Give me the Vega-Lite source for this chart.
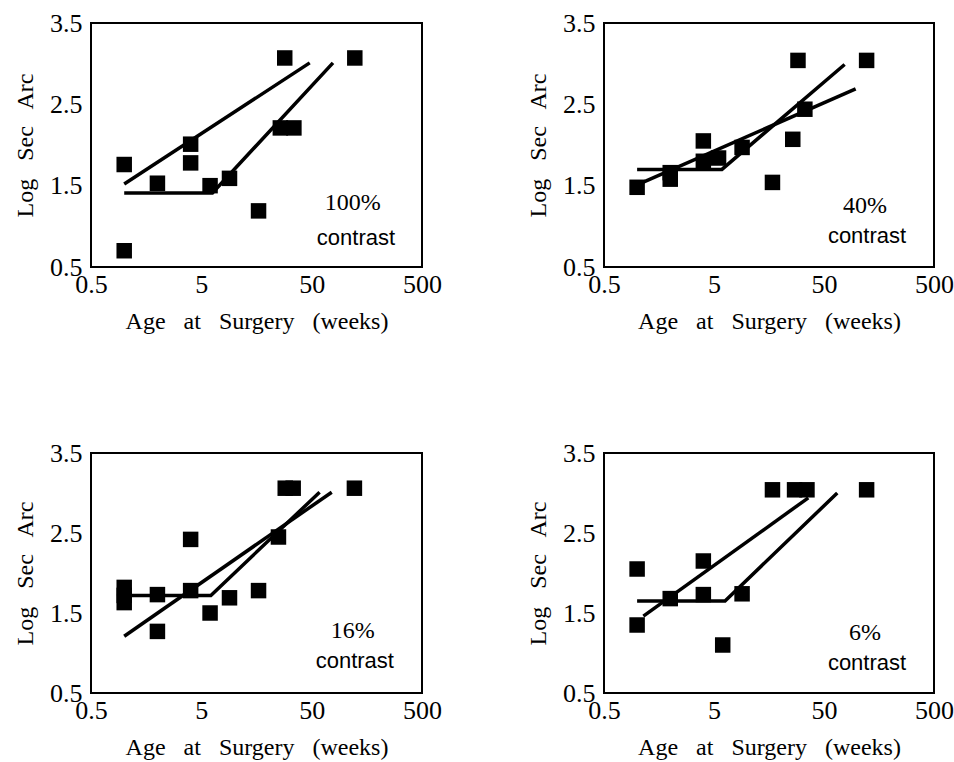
{
  "$schema": "https://vega.github.io/schema/vega-lite/v6.json",
  "padding": {"left": 12, "top": 9, "right": 5, "bottom": 5},
  "background": "white",
  "data": {"values": [
    {"p": 1, "kind": "pt", "x": 1, "y": 1.76},
    {"p": 1, "kind": "pt", "x": 1, "y": 0.7},
    {"p": 1, "kind": "pt", "x": 2, "y": 1.53},
    {"p": 1, "kind": "pt", "x": 4, "y": 2.01},
    {"p": 1, "kind": "pt", "x": 4, "y": 1.78},
    {"p": 1, "kind": "pt", "x": 6, "y": 1.5},
    {"p": 1, "kind": "pt", "x": 9, "y": 1.59},
    {"p": 1, "kind": "pt", "x": 16.5, "y": 1.19},
    {"p": 1, "kind": "pt", "x": 26, "y": 2.21},
    {"p": 1, "kind": "pt", "x": 28.5, "y": 3.07},
    {"p": 1, "kind": "pt", "x": 34.5, "y": 2.21},
    {"p": 1, "kind": "pt", "x": 123, "y": 3.07},
    {"p": 1, "kind": "fit", "line": "A", "x": 1, "y": 1.52},
    {"p": 1, "kind": "fit", "line": "A", "x": 48, "y": 3.01},
    {"p": 1, "kind": "fit", "line": "B", "x": 1, "y": 1.41},
    {"p": 1, "kind": "fit", "line": "B", "x": 6.3, "y": 1.41},
    {"p": 1, "kind": "fit", "line": "B", "x": 78, "y": 3.01},
    {"p": 1, "kind": "pct", "x": 118, "y": 1.29, "label": "100%"},
    {"p": 1, "kind": "word", "x": 126, "y": 0.86, "label": "contrast"},

    {"p": 2, "kind": "pt", "x": 1, "y": 1.48},
    {"p": 2, "kind": "pt", "x": 2, "y": 1.58},
    {"p": 2, "kind": "pt", "x": 2, "y": 1.66},
    {"p": 2, "kind": "pt", "x": 4, "y": 2.05},
    {"p": 2, "kind": "pt", "x": 4, "y": 1.8},
    {"p": 2, "kind": "pt", "x": 5.5, "y": 1.84},
    {"p": 2, "kind": "pt", "x": 9, "y": 1.97},
    {"p": 2, "kind": "pt", "x": 17, "y": 1.54},
    {"p": 2, "kind": "pt", "x": 26, "y": 2.07},
    {"p": 2, "kind": "pt", "x": 29, "y": 3.04},
    {"p": 2, "kind": "pt", "x": 33.5, "y": 2.44},
    {"p": 2, "kind": "pt", "x": 122, "y": 3.04},
    {"p": 2, "kind": "fit", "line": "A", "x": 1, "y": 1.51},
    {"p": 2, "kind": "fit", "line": "A", "x": 97, "y": 2.69},
    {"p": 2, "kind": "fit", "line": "B", "x": 1, "y": 1.7},
    {"p": 2, "kind": "fit", "line": "B", "x": 5.9, "y": 1.7},
    {"p": 2, "kind": "fit", "line": "B", "x": 77, "y": 2.99},
    {"p": 2, "kind": "pct", "x": 118, "y": 1.25, "label": "40%"},
    {"p": 2, "kind": "word", "x": 123, "y": 0.88, "label": "contrast"},

    {"p": 3, "kind": "pt", "x": 1, "y": 1.82},
    {"p": 3, "kind": "pt", "x": 1, "y": 1.72},
    {"p": 3, "kind": "pt", "x": 1, "y": 1.63},
    {"p": 3, "kind": "pt", "x": 2, "y": 1.73},
    {"p": 3, "kind": "pt", "x": 2, "y": 1.27},
    {"p": 3, "kind": "pt", "x": 4, "y": 2.42},
    {"p": 3, "kind": "pt", "x": 4, "y": 1.78},
    {"p": 3, "kind": "pt", "x": 6, "y": 1.5},
    {"p": 3, "kind": "pt", "x": 9, "y": 1.69},
    {"p": 3, "kind": "pt", "x": 16.5, "y": 1.78},
    {"p": 3, "kind": "pt", "x": 25, "y": 2.45},
    {"p": 3, "kind": "pt", "x": 28.8, "y": 3.06},
    {"p": 3, "kind": "pt", "x": 34, "y": 3.06},
    {"p": 3, "kind": "pt", "x": 122, "y": 3.06},
    {"p": 3, "kind": "fit", "line": "A", "x": 1, "y": 1.21},
    {"p": 3, "kind": "fit", "line": "A", "x": 76, "y": 3.01},
    {"p": 3, "kind": "fit", "line": "B", "x": 1, "y": 1.72},
    {"p": 3, "kind": "fit", "line": "B", "x": 6.1, "y": 1.72},
    {"p": 3, "kind": "fit", "line": "B", "x": 59, "y": 3.01},
    {"p": 3, "kind": "pct", "x": 118, "y": 1.27, "label": "16%"},
    {"p": 3, "kind": "word", "x": 123, "y": 0.9, "label": "contrast"},

    {"p": 4, "kind": "pt", "x": 1, "y": 2.05},
    {"p": 4, "kind": "pt", "x": 1, "y": 1.35},
    {"p": 4, "kind": "pt", "x": 2, "y": 1.68},
    {"p": 4, "kind": "pt", "x": 4, "y": 2.15},
    {"p": 4, "kind": "pt", "x": 4, "y": 1.73},
    {"p": 4, "kind": "pt", "x": 6, "y": 1.1},
    {"p": 4, "kind": "pt", "x": 9, "y": 1.74},
    {"p": 4, "kind": "pt", "x": 17, "y": 3.04},
    {"p": 4, "kind": "pt", "x": 27, "y": 3.04},
    {"p": 4, "kind": "pt", "x": 35, "y": 3.04},
    {"p": 4, "kind": "pt", "x": 122, "y": 3.04},
    {"p": 4, "kind": "fit", "line": "A", "x": 1.14, "y": 1.46},
    {"p": 4, "kind": "fit", "line": "A", "x": 36, "y": 2.94},
    {"p": 4, "kind": "fit", "line": "B", "x": 1, "y": 1.65},
    {"p": 4, "kind": "fit", "line": "B", "x": 6.3, "y": 1.65},
    {"p": 4, "kind": "fit", "line": "B", "x": 66, "y": 3.0},
    {"p": 4, "kind": "pct", "x": 118, "y": 1.25, "label": "6%"},
    {"p": 4, "kind": "word", "x": 123, "y": 0.88, "label": "contrast"}
  ]},
  "columns": 2,
  "spacing": {"row": 186, "column": 182},
  "bounds": "flush",
  "concat": [
    {
      "width": 331, "height": 244,
      "transform": [{"filter": "datum.p == 1"}],
      "encoding": {
        "x": {"field": "x", "type": "quantitative", "scale": {"type": "log", "domain": [0.5, 500]}, "axis": {"values": [0.5, 5, 50, 500], "format": "~g"}, "title": "Age\u00a0\u00a0 at\u00a0\u00a0 Surgery\u00a0\u00a0 (weeks)"},
        "y": {"field": "y", "type": "quantitative", "scale": {"domain": [0.5, 3.5], "zero": false}, "axis": {"values": [0.5, 1.5, 2.5, 3.5], "format": ".1f"}, "title": "Log\u00a0\u00a0 Sec\u00a0\u00a0 Arc"}
      },
      "layer": [
        {"transform": [{"filter": "datum.kind == 'pt'"}], "mark": {"type": "square", "size": 240, "color": "black", "opacity": 1}},
        {"transform": [{"filter": "datum.kind == 'fit'"}], "mark": {"type": "line", "color": "black", "strokeWidth": 3.5}, "encoding": {"detail": {"field": "line"}}},
        {"transform": [{"filter": "datum.kind == 'pct'"}], "mark": {"type": "text", "font": "Liberation Serif", "fontSize": 24, "color": "black"}, "encoding": {"text": {"field": "label"}}},
        {"transform": [{"filter": "datum.kind == 'word'"}], "mark": {"type": "text", "font": "Liberation Sans", "fontSize": 22, "color": "black"}, "encoding": {"text": {"field": "label"}}}
      ]
    },
    {
      "width": 330, "height": 244,
      "transform": [{"filter": "datum.p == 2"}],
      "encoding": {
        "x": {"field": "x", "type": "quantitative", "scale": {"type": "log", "domain": [0.5, 500]}, "axis": {"values": [0.5, 5, 50, 500], "format": "~g"}, "title": "Age\u00a0\u00a0 at\u00a0\u00a0 Surgery\u00a0\u00a0 (weeks)"},
        "y": {"field": "y", "type": "quantitative", "scale": {"domain": [0.5, 3.5], "zero": false}, "axis": {"values": [0.5, 1.5, 2.5, 3.5], "format": ".1f"}, "title": "Log\u00a0\u00a0 Sec\u00a0\u00a0 Arc"}
      },
      "layer": [
        {"transform": [{"filter": "datum.kind == 'pt'"}], "mark": {"type": "square", "size": 240, "color": "black", "opacity": 1}},
        {"transform": [{"filter": "datum.kind == 'fit'"}], "mark": {"type": "line", "color": "black", "strokeWidth": 3.5}, "encoding": {"detail": {"field": "line"}}},
        {"transform": [{"filter": "datum.kind == 'pct'"}], "mark": {"type": "text", "font": "Liberation Serif", "fontSize": 24, "color": "black"}, "encoding": {"text": {"field": "label"}}},
        {"transform": [{"filter": "datum.kind == 'word'"}], "mark": {"type": "text", "font": "Liberation Sans", "fontSize": 22, "color": "black"}, "encoding": {"text": {"field": "label"}}}
      ]
    },
    {
      "width": 331, "height": 240,
      "transform": [{"filter": "datum.p == 3"}],
      "encoding": {
        "x": {"field": "x", "type": "quantitative", "scale": {"type": "log", "domain": [0.5, 500]}, "axis": {"values": [0.5, 5, 50, 500], "format": "~g"}, "title": "Age\u00a0\u00a0 at\u00a0\u00a0 Surgery\u00a0\u00a0 (weeks)"},
        "y": {"field": "y", "type": "quantitative", "scale": {"domain": [0.5, 3.5], "zero": false}, "axis": {"values": [0.5, 1.5, 2.5, 3.5], "format": ".1f"}, "title": "Log\u00a0\u00a0 Sec\u00a0\u00a0 Arc"}
      },
      "layer": [
        {"transform": [{"filter": "datum.kind == 'pt'"}], "mark": {"type": "square", "size": 240, "color": "black", "opacity": 1}},
        {"transform": [{"filter": "datum.kind == 'fit'"}], "mark": {"type": "line", "color": "black", "strokeWidth": 3.5}, "encoding": {"detail": {"field": "line"}}},
        {"transform": [{"filter": "datum.kind == 'pct'"}], "mark": {"type": "text", "font": "Liberation Serif", "fontSize": 24, "color": "black"}, "encoding": {"text": {"field": "label"}}},
        {"transform": [{"filter": "datum.kind == 'word'"}], "mark": {"type": "text", "font": "Liberation Sans", "fontSize": 22, "color": "black"}, "encoding": {"text": {"field": "label"}}}
      ]
    },
    {
      "width": 330, "height": 240,
      "transform": [{"filter": "datum.p == 4"}],
      "encoding": {
        "x": {"field": "x", "type": "quantitative", "scale": {"type": "log", "domain": [0.5, 500]}, "axis": {"values": [0.5, 5, 50, 500], "format": "~g"}, "title": "Age\u00a0\u00a0 at\u00a0\u00a0 Surgery\u00a0\u00a0 (weeks)"},
        "y": {"field": "y", "type": "quantitative", "scale": {"domain": [0.5, 3.5], "zero": false}, "axis": {"values": [0.5, 1.5, 2.5, 3.5], "format": ".1f"}, "title": "Log\u00a0\u00a0 Sec\u00a0\u00a0 Arc"}
      },
      "layer": [
        {"transform": [{"filter": "datum.kind == 'pt'"}], "mark": {"type": "square", "size": 240, "color": "black", "opacity": 1}},
        {"transform": [{"filter": "datum.kind == 'fit'"}], "mark": {"type": "line", "color": "black", "strokeWidth": 3.5}, "encoding": {"detail": {"field": "line"}}},
        {"transform": [{"filter": "datum.kind == 'pct'"}], "mark": {"type": "text", "font": "Liberation Serif", "fontSize": 24, "color": "black"}, "encoding": {"text": {"field": "label"}}},
        {"transform": [{"filter": "datum.kind == 'word'"}], "mark": {"type": "text", "font": "Liberation Sans", "fontSize": 22, "color": "black"}, "encoding": {"text": {"field": "label"}}}
      ]
    }
  ],
  "config": {
    "view": {"stroke": "black", "strokeWidth": 2},
    "axis": {
      "grid": false, "ticks": false, "domain": false,
      "labelFont": "Liberation Serif", "labelFontSize": 26, "labelColor": "black",
      "titleFont": "Liberation Serif", "titleFontSize": 24, "titleFontWeight": "normal", "titleColor": "black",
      "labelFlush": false, "labelOverlap": false
    },
    "axisX": {"labelPadding": 4, "titlePadding": 12},
    "axisY": {"labelPadding": 9, "titlePadding": 12},
    "text": {"align": "center", "baseline": "middle"}
  }
}
